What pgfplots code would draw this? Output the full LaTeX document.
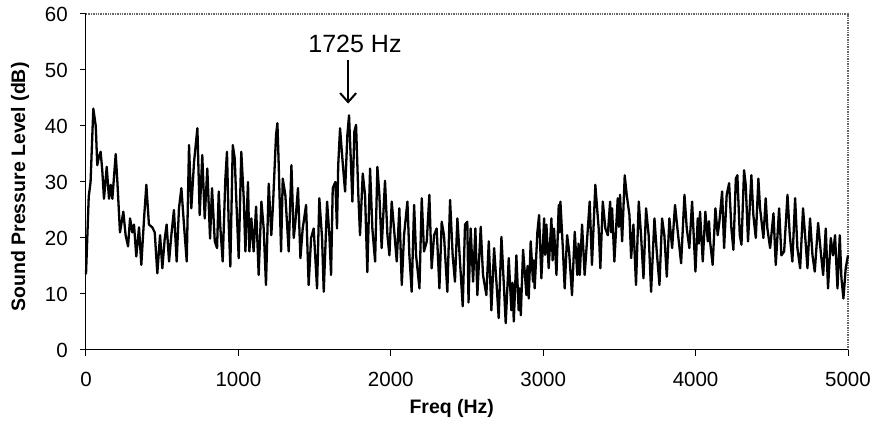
\documentclass[border=0pt]{standalone}
\usepackage{pgfplots}
\pgfplotsset{compat=1.18}
\usepackage{fontspec}
\setmainfont{Liberation Sans}
\usetikzlibrary{arrows.meta}

\begin{document}
\begin{tikzpicture}
\begin{axis}[
  width=762pt, height=336pt,
  scale only axis,
  clip=false,
  xmin=0, xmax=5000,
  ymin=0, ymax=60,
  xtick={0,1000,2000,3000,4000,5000},
  ytick={0,10,20,30,40,50,60},
  xtick pos=lower, ytick pos=left,
  tick align=outside,
  major tick length=6pt,
  major tick style={black, line width=1pt},
  minor tick num=0,
  axis line style={draw=none},
  scaled x ticks=false,
  /pgf/number format/1000 sep={},
  /pgf/number format/assume math mode=true,
  tick label style={font=\fontsize{20.5}{24}\selectfont},
  xticklabel style={anchor=north, inner sep=0pt, yshift=-16pt},
  yticklabel style={anchor=east, inner sep=0pt, xshift=-12pt},
  xlabel={Freq (Hz)},
  ylabel={Sound Pressure Level (dB)},
  label style={font=\fontsize{19.5}{23}\selectfont\bfseries},
  xlabel style={at={(axis description cs:0.48,-0.1875)}, anchor=base},
  ylabel style={at={(axis description cs:-0.08,0.485)}, anchor=base, rotate=0},
]
% plot-area border: grey dotted top/right, black axes left/bottom
\draw[black!60, line width=1.4pt, densely dotted] (rel axis cs:0,1) -- (rel axis cs:1,1) -- (rel axis cs:1,0);
\draw[black, line width=1pt] (rel axis cs:0,1) -- (rel axis cs:0,0) -- (rel axis cs:1,0);

\addplot[black, line width=2.3pt, line join=round] coordinates {
  (0,13.5) (18,27.4) (30,30) (48,43.1) (64,40) (74,33) (85,34.5) (96,35.4)
  (107,32) (118,27) (136,32.7) (151,27) (162,29.5) (173,27) (195,35) (206,30)
  (223,21) (245,24.7) (260,20.5) (276,18.5) (289,23.5) (304,21) (315,22.4)
  (330,16.7) (348,21.9) (363,15.2) (381,23.5) (396,29.5) (413,22.4) (435,21.9)
  (451,21) (468,13.7) (486,20.5) (501,14.6) (516,19.7) (529,22.4) (545,15.8)
  (560,20.5) (577,25) (595,15.8) (610,25.3) (626,28.9) (643,22.3) (661,15.8)
  (676,36.6) (691,25.3) (709,33.6) (731,39.6) (746,24.1) (763,34.8) (779,23.5)
  (796,32.4) (814,19.9)
  (827,28.9) (845,19.4) (860,18.2) (871,28.3) (882,21.7) (897,15.8) (914,30.3)
  (925,35.4) (936,22.9) (947,14.9) (963,36.6) (976,34.2) (984,28.3) (1002,16.4)
  (1019,35.4) (1035,27.1) (1046,17.6) (1063,30) (1072,17.6) (1085,23.5)
  (1100,17.6) (1116,25.6) (1133,13.4) (1151,26.5) (1166,21.7) (1181,11.6)
  (1199,29.7) (1216,20.5) (1227,25.9) (1247,38.4) (1256,40.5) (1264,33.6)
  (1280,17.6) (1291,30.6) (1308,27.7) (1330,17.6) (1348,33) (1363,20)
  (1374,22.9) (1391,28.9) (1407,16.4) (1422,21.7) (1444,25.9) (1461,11.6)
  (1477,20) (1494,21.7) (1516,11) (1531,27.1) (1549,20) (1560,10.4)
  (1582,26.5) (1597,20.5) (1608,13.4) (1619,28.9) (1636,30) (1647,21.7)
  (1655,33)
  (1667,39.6) (1684,33.6) (1700,28.3) (1715,38.4) (1726,41.9) (1739,33)
  (1748,26.5) (1761,39) (1772,40.2) (1787,27.7) (1798,20.5) (1816,31.5)
  (1831,27.7) (1846,13.9) (1864,32.4) (1879,21.7) (1897,15.8) (1912,32.7)
  (1925,27.7) (1940,18.2) (1962,30.2) (1978,20.5) (1991,16.9) (2006,26.5)
  (2021,21.7) (2039,15.8) (2056,25.3) (2072,11.6) (2087,20.5) (2109,26.5)
  (2122,16.9) (2137,10.4) (2153,25.9) (2166,16.9) (2188,11) (2203,27.1)
  (2218,17.6) (2236,19.4) (2253,27.7) (2268,14.6) (2284,20.5) (2301,21.7)
  (2319,11) (2334,22.9) (2349,20.5) (2371,10.4) (2389,26.8) (2406,16.9)
  (2421,12.2) (2437,23.5) (2454,15.8) (2472,7.8) (2487,22.4) (2502,22.9)
  (2510,8.5) (2524,21.7) (2540,12.2) (2555,21.7) (2568,9.8) (2590,22)
  (2605,13.4) (2627,9.8) (2643,19.4) (2660,7.1) (2678,18.2) (2693,12.2)
  (2708,5.7) (2726,20.2) (2743,11) (2754,4.8) (2774,16.4) (2791,7.1)
  (2799,12) (2807,5.1) (2824,16.9) (2839,7.1) (2846,11) (2853,6.2)
  (2868,17.9) (2890,9.8) (2897,15) (2905,9.2) (2918,19.4) (2933,12.2)
  (2938,16) (2944,11) (2962,21.1) (2973,24.1) (2988,12.8) (3006,23.5)
  (3013,17) (3021,22.4) (3036,14.6) (3054,23.5) (3062,16) (3071,21.7)
  (3087,13.4) (3102,25.9) (3108,21) (3113,26.5) (3130,17.6) (3141,11)
  (3157,20.5) (3170,17.6) (3189,9.8) (3207,21.1) (3224,13.4) (3232,19)
  (3240,13.4) (3255,22.4) (3272,13.4) (3290,20.5) (3305,26.5) (3320,15.2)
  (3342,29.5)
  (3364,21.7) (3375,14.6) (3391,26.5) (3408,21.7) (3424,20.5) (3439,26.5)
  (3446,21) (3452,25.3) (3467,15.8) (3489,27.1) (3497,22) (3504,27.7)
  (3518,19.4) (3535,31.2) (3548,27.7) (3566,24.1) (3577,16.4) (3592,22.4)
  (3609,11.6) (3627,26.5) (3642,20.5) (3658,12.8) (3675,25.3) (3692,20.5)
  (3708,10.4) (3730,23.5) (3745,17.6) (3763,11.6) (3780,23.5) (3795,20.5)
  (3811,13.1) (3828,23.5) (3846,18.2) (3865,25.9) (3883,21.1) (3905,15.5)
  (3927,27.7) (3942,21.7) (3959,18.2) (3977,26.5) (3999,14) (4014,23.5)
  (4021,19) (4029,24.7) (4047,15.8) (4064,24.7) (4080,19.4) (4088,23)
  (4095,19.4) (4112,15.2) (4130,25.3) (4145,20.5) (4156,22.9) (4174,28.3)
  (4187,18.2) (4204,27.7) (4220,29.8) (4235,21.7) (4248,17.9) (4264,30.6)
  (4274,31.2) (4290,20.5) (4301,18.8) (4318,32.1) (4329,29.5) (4344,19.4)
  (4366,31.2) (4379,24.1) (4395,20) (4412,30.6) (4423,25.3) (4445,20)
  (4460,27.1) (4471,21.7) (4489,18.2) (4511,24.4) (4526,15.2) (4548,25.3)
  (4563,16.9) (4581,17.6) (4603,27.7) (4618,20.5) (4635,15.8) (4653,27.1)
  (4668,18.2) (4686,14.6) (4705,25.3) (4723,18.8) (4734,14.6) (4751,23.5)
  (4767,16.9) (4782,14) (4804,22.7) (4821,17.6) (4837,13.4) (4854,21.7)
  (4869,11) (4887,20) (4902,16.9) (4915,20.5) (4931,11) (4946,20.5)
  (4957,12.8) (4970,9.2) (4985,14.6) (5000,16.9)
};

% annotation
\draw[black, line width=2pt, -{Straight Barb[length=9pt,width=16pt]}]
  (axis cs:1720,51.8) -- (axis cs:1720,44);
\node[anchor=base, font=\fontsize{25}{30}\selectfont, inner sep=0pt]
  at (axis cs:1765,53.1) {1725 Hz};
\end{axis}
\pgfresetboundingbox
\path (-86pt,-81pt) rectangle (787pt,350pt);
\end{tikzpicture}
\end{document}
